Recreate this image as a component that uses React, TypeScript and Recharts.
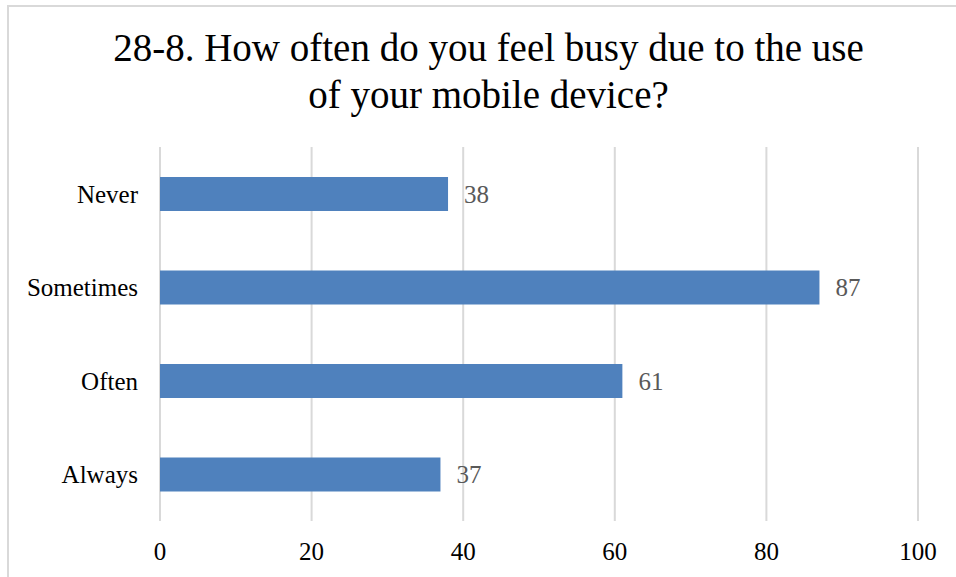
import { BarChart, Bar, XAxis, YAxis, CartesianGrid, LabelList } from "recharts";

const categories = ["Never", "Sometimes", "Often", "Always"];
const counts = [38, 87, 61, 37];
const xTicks = [0, 20, 40, 60, 80, 100];
const titleLines = ["28-8. How often do you feel busy due to the use", "of your mobile device?"];

const data = categories.map((name, i) => ({ name, value: counts[i] }));

const font = "'Liberation Serif', 'Times New Roman', serif";

const App = () => {
  return (
    <div
      style={{
        position: "fixed",
        left: 0,
        top: 0,
        width: 956,
        height: 577,
        overflow: "hidden",
        background: "#fff",
        fontFamily: font,
      }}
    >
      <div
        style={{
          position: "absolute",
          left: 7,
          top: 5,
          width: 1000,
          height: 1000,
          borderLeft: "2px solid #d9d9d9",
          borderTop: "2px solid #d9d9d9",
        }}
      />
      <div
        style={{
          position: "absolute",
          left: 0,
          top: 24,
          width: 977,
          textAlign: "center",
          fontSize: 39,
          lineHeight: "47px",
          color: "#000",
        }}
      >
        {titleLines.map((t) => (
          <div key={t}>{t}</div>
        ))}
      </div>
      <div style={{ position: "absolute", left: 0, top: 0 }}>
        <BarChart
          width={956}
          height={577}
          data={data}
          layout="vertical"
          margin={{ top: 147, right: 38, bottom: 0, left: 0 }}
        >
          <CartesianGrid horizontal={false} stroke="#d9d9d9" strokeWidth={2} />
          <XAxis
            type="number"
            domain={[0, 100]}
            ticks={xTicks}
            height={56}
            axisLine={false}
            tickLine={false}
            tickMargin={15}
            tick={{ fill: "#000", fontSize: 25, fontFamily: font }}
          />
          <YAxis
            type="category"
            dataKey="name"
            width={160}
            axisLine={false}
            tickLine={false}
            tickMargin={16}
            tick={{ fill: "#000", fontSize: 25, fontFamily: font }}
          />
          <Bar dataKey="value" fill="#4f81bd" barSize={34} isAnimationActive={false}>
            <LabelList
              dataKey="value"
              position="right"
              offset={16}
              fill="#595959"
              fontSize={25}
              fontFamily={font}
            />
          </Bar>
        </BarChart>
      </div>
    </div>
  );
};

export default App;
